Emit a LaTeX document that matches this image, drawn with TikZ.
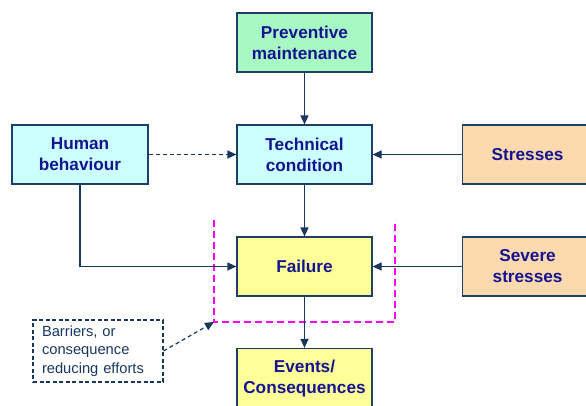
\documentclass[tikz,border=0pt]{standalone}
\usepackage{fontspec}
\setmainfont{Liberation Sans}
\usetikzlibrary{arrows.meta}
\definecolor{txtblue}{HTML}{141490}
\definecolor{edgeblue}{HTML}{1F3F66}
\definecolor{lnblue}{HTML}{17375E}
\definecolor{fgreen}{HTML}{A8F8C4}
\definecolor{fcyan}{HTML}{CCFFFF}
\definecolor{forange}{HTML}{FDD9B0}
\definecolor{fyellow}{HTML}{FFFF99}
\definecolor{magline}{HTML}{FF00FF}
\tikzset{
  box/.style={draw=edgeblue, line width=1.2pt, minimum width=135pt, minimum height=59pt,
    inner sep=0pt, align=center, text=txtblue,
    font=\fontsize{17.2}{21}\selectfont\bfseries},
  conn/.style={draw=lnblue, line width=1.2pt, -{Triangle[length=9pt,width=8pt]}},
  dconn/.style={conn, dashed, dash pattern=on 4pt off 3pt},
  barrier/.style={draw=magline, line width=1.6pt, dash pattern=on 7pt off 4pt},
  notebox/.style={draw=lnblue, line width=1.1pt, dash pattern=on 4pt off 2.5pt,
    minimum width=130pt, minimum height=62pt, inner xsep=9pt, inner ysep=0pt,
    text width=112pt, align=left,
    text=lnblue, font=\fontsize{14.7}{18.2}\selectfont}
}
\begin{document}
\begin{tikzpicture}[x=1pt,y=-1pt]
\useasboundingbox (0,0) rectangle (586,405);
\clip (0,0) rectangle (586,405);
\node[box, fill=fgreen] (pm) at (304.5,42.5) {Preventive\\maintenance};
\node[box, fill=fcyan] (tc) at (304.5,154.5) {Technical\\condition};
\node[box, fill=fcyan, minimum width=136pt] (hb) at (80,154.5) {Human\\behaviour};
\node[box, fill=forange, minimum width=130pt, anchor=west] (st) at (462,154.5) {Stresses};
\node[box, fill=forange, minimum width=130pt, anchor=west] (sst) at (462,266.5) {Severe\\stresses};
\node[box, fill=fyellow] (fa) at (304.5,266.5) {Failure};
\node[box, fill=fyellow, minimum height=60pt] (ev) at (304.5,378.5) {Events/\\Consequences};
\node[notebox] (nb) at (98,351) {Barriers, or\\consequence\\reducing efforts};
\coordinate (bl) at (214,322);
\coordinate (tl) at (214,220);
\coordinate (br) at (395,322);
\coordinate (tr) at (395,220);
\draw[barrier] (tl) -- (bl) -- (br) -- (tr);
\draw[conn] (pm) -- (tc);
\draw[conn] (tc) -- (fa);
\draw[conn] (fa) -- (ev);
\draw[dconn] (hb) -- (tc);
\draw[conn] (st) -- (tc);
\draw[conn] (sst) -- (fa);
\draw[conn] (hb.south) |- (fa.west);
\draw[dconn] (nb.east) -- (bl);
\end{tikzpicture}
\end{document}
